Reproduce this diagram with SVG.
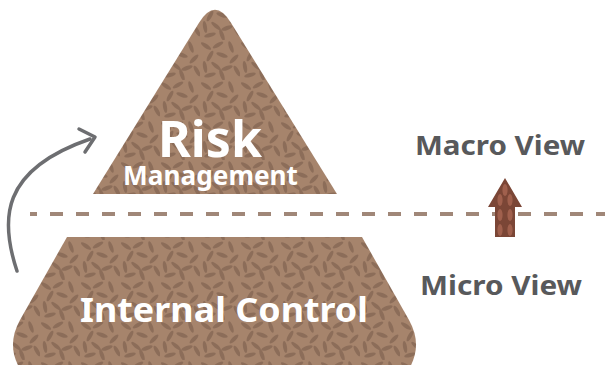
<svg xmlns="http://www.w3.org/2000/svg" width="605" height="365" viewBox="0 0 605 365">
<defs>
<pattern id="rice" patternUnits="userSpaceOnUse" width="40" height="40">
<rect width="40" height="40" fill="#a6846c"/>
<g fill="#8c6d59">
<ellipse cx="6" cy="6" rx="6" ry="2" transform="rotate(35 6 6)"/>
<ellipse cx="18" cy="5" rx="6" ry="2" transform="rotate(-30 18 5)"/>
<ellipse cx="31" cy="7" rx="6" ry="2" transform="rotate(70 31 7)"/>
<ellipse cx="10" cy="16" rx="6" ry="2" transform="rotate(-60 10 16)"/>
<ellipse cx="22" cy="15" rx="6" ry="2" transform="rotate(20 22 15)"/>
<ellipse cx="34" cy="19" rx="6" ry="2" transform="rotate(-45 34 19)"/>
<ellipse cx="5" cy="27" rx="6" ry="2" transform="rotate(80 5 27)"/>
<ellipse cx="16" cy="26" rx="6" ry="2" transform="rotate(40 16 26)"/>
<ellipse cx="27" cy="28" rx="6" ry="2" transform="rotate(-20 27 28)"/>
<ellipse cx="37" cy="31" rx="6" ry="2" transform="rotate(60 37 31)"/>
<ellipse cx="10" cy="35" rx="6" ry="2" transform="rotate(-15 10 35)"/>
<ellipse cx="22" cy="35" rx="6" ry="2" transform="rotate(70 22 35)"/>
</g>
</pattern>
<clipPath id="arrowClip">
<polygon points="505,178 522,207 515,207 515,237 495,237 495,207 488,207"/>
</clipPath>
</defs>
<style>
.lbl{font-family:"Noto Sans","Open Sans",sans-serif;font-weight:bold;fill:#ffffff;text-anchor:middle}
.side{font-family:"Noto Sans","Open Sans",sans-serif;font-weight:bold;fill:#58595b;text-anchor:middle}
</style>

<g id="connectors">
<line x1="30" y1="214" x2="605" y2="214" stroke="#a08778" stroke-width="4" stroke-dasharray="13 13" stroke-dashoffset="6"/>
<path d="M17,271 C0,220 0,170 90,139" fill="none" stroke="#6d6e71" stroke-width="3.5" stroke-linecap="round"/>
<polyline points="79,129 95,137 85,152" fill="none" stroke="#6d6e71" stroke-width="3.5" stroke-linecap="round" stroke-linejoin="round"/>
</g>

<g id="risk-management">
<path d="M93,194 L199.2,22.5 Q215,-3 230.8,22.5 L337,194 Z" fill="url(#rice)"/>
<text class="lbl" x="210" y="157" font-size="50" textLength="104" lengthAdjust="spacingAndGlyphs">Risk</text>
<text class="lbl" x="210.5" y="185" font-size="26" textLength="175" lengthAdjust="spacingAndGlyphs">Management</text>
</g>

<g id="internal-control">
<path d="M67,237 L362,237 L409,320 Q424,347 407,372 L22,372 Q5,347 20,320 Z" fill="url(#rice)"/>
<text class="lbl" x="224" y="322" font-size="34" textLength="288" lengthAdjust="spacingAndGlyphs">Internal Control</text>
</g>

<g id="macro-view">
<text class="side" x="500" y="155" font-size="27" textLength="170" lengthAdjust="spacingAndGlyphs">Macro View</text>
</g>

<g id="micro-view">
<text class="side" x="501" y="295" font-size="27" textLength="162" lengthAdjust="spacingAndGlyphs">Micro View</text>
</g>

<g id="up-arrow">
<polygon points="505,178 522,207 515,207 515,237 495,237 495,207 488,207" fill="#7b4636"/>
<g clip-path="url(#arrowClip)" fill="#a0604d">
<ellipse cx="500" cy="200" rx="2.6" ry="6"/>
<ellipse cx="510" cy="200" rx="2.6" ry="6"/>
<ellipse cx="505" cy="190" rx="2.6" ry="6"/>
<ellipse cx="500" cy="215" rx="2.6" ry="6"/>
<ellipse cx="510" cy="215" rx="2.6" ry="6"/>
<ellipse cx="500" cy="230" rx="2.6" ry="6"/>
<ellipse cx="510" cy="230" rx="2.6" ry="6"/>
</g>
</g>
</svg>
